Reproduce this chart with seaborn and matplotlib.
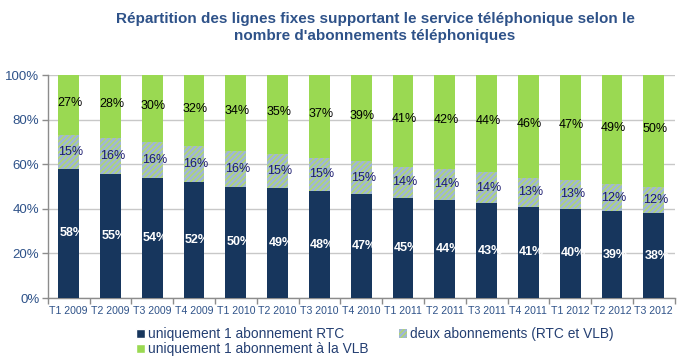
import numpy as np
import pandas as pd
import matplotlib
matplotlib.use("Agg")
import matplotlib.pyplot as plt
from matplotlib.patches import Patch
import seaborn as sns

quarters = ["T1 2009", "T2 2009", "T3 2009", "T4 2009", "T1 2010", "T2 2010",
            "T3 2010", "T4 2010", "T1 2011", "T2 2011", "T3 2011", "T4 2011",
            "T1 2012", "T2 2012", "T3 2012"]
rtc_only = [58, 55, 54, 52, 50, 49, 48, 47, 45, 44, 43, 41, 40, 39, 38]
both = [15, 16, 16, 16, 16, 15, 15, 15, 14, 14, 14, 13, 13, 12, 12]
vlb_only = [27, 28, 30, 32, 34, 35, 37, 39, 41, 42, 44, 46, 47, 49, 50]

labels = ["uniquement 1 abonnement RTC", "deux abonnements (RTC et VLB)",
          "uniquement 1 abonnement à la VLB"]

navy = "#17365D"
mid_face = "#9FB6D6"
stripe = "#B2D96A"
green = "#9AD952"
title_col = "#2E5289"
tick_col = "#2E5289"

sns.set_theme(style="white")
plt.rcParams["font.family"] = ["Liberation Sans", "DejaVu Sans"]
plt.rcParams["hatch.linewidth"] = 1.0

df = pd.DataFrame({"quarter": quarters, "rtc": rtc_only, "both": both, "vlb": vlb_only})
tot = df[["rtc", "both", "vlb"]].sum(axis=1)
# rounded labels don't always add to 100, scale stacks to full height
df["h1"] = df["rtc"] / tot * 100
df["h2"] = (df["rtc"] + df["both"]) / tot * 100
df["h3"] = 100.0

fig = plt.figure(figsize=(6.92, 3.63), dpi=100)
ax = fig.add_axes([0.069, 0.179, 0.906, 0.614])

sns.barplot(data=df, x="quarter", y="h3", color=green, width=0.5, linewidth=0,
            saturation=1, ax=ax, zorder=2)
sns.barplot(data=df, x="quarter", y="h2", color=mid_face, width=0.5, linewidth=0,
            saturation=1, ax=ax, zorder=3, hatch="//////", edgecolor=stripe)
sns.barplot(data=df, x="quarter", y="h1", color=navy, width=0.5, linewidth=0,
            saturation=1, ax=ax, zorder=4)

for i, row in df.iterrows():
    ax.text(i + 0.08, row["h1"] / 2, f"{row['rtc']}%", ha="center", va="center",
            color="white", fontsize=9, fontweight="bold", zorder=5)
    ax.text(i + 0.05, (row["h1"] + row["h2"]) / 2, f"{row['both']}%", ha="center",
            va="center", color="#1A1A6E", fontsize=9, zorder=5)
    ax.text(i + 0.03, (row["h2"] + 100) / 2 + 1, f"{row['vlb']}%", ha="center",
            va="center", color="black", fontsize=9, zorder=5)

ax.set_ylim(0, 100)
ax.set_xlim(-0.5, len(quarters) - 0.5)
ax.set_yticks(range(0, 101, 20))
ax.set_yticklabels([f"{v}%" for v in range(0, 101, 20)])
ax.yaxis.grid(True, color="#C8C8C8", linewidth=1, zorder=0)
ax.set_axisbelow(True)
ax.set_xlabel("")
ax.set_ylabel("")

for s in ["top", "right"]:
    ax.spines[s].set_visible(False)
for s in ["left", "bottom"]:
    ax.spines[s].set_color("#8C8C8C")
    ax.spines[s].set_linewidth(1)

ax.tick_params(axis="y", labelsize=9.5, colors="#8C8C8C",
               length=4, width=1, direction="out", left=True, pad=2)
for t in ax.get_yticklabels():
    t.set_color(tick_col)
ax.tick_params(axis="x", labelsize=7.6, length=0, pad=6)
for t in ax.get_xticklabels():
    t.set_color(tick_col)
ax.set_xticks(np.arange(-0.5, len(quarters), 1), minor=True)
ax.tick_params(axis="x", which="minor", length=4, width=1, color="#8C8C8C",
               direction="out", bottom=True)

fig.text(0.542, 0.925, "Répartition des lignes fixes supportant le service téléphonique selon le\n"
         "nombre d'abonnements téléphoniques", ha="center", va="center",
         fontsize=11, fontweight="bold", color=title_col, linespacing=1.3)

handles = [Patch(facecolor=navy, label=labels[0]),
           Patch(facecolor=green, label=labels[2]),
           Patch(facecolor=mid_face, hatch="//////", edgecolor=stripe,
                 linewidth=0, label=labels[1])]
leg = fig.legend(handles=handles, loc="upper left", bbox_to_anchor=(0.197, 0.099),
                 ncol=2, frameon=False, fontsize=9.9, handlelength=0.6,
                 handleheight=0.6, handletextpad=0.25, columnspacing=2.2,
                 labelspacing=0.1, borderpad=0, borderaxespad=0)
for t in leg.get_texts():
    t.set_color("#243F72")

fig.savefig("out.png", dpi=100)
